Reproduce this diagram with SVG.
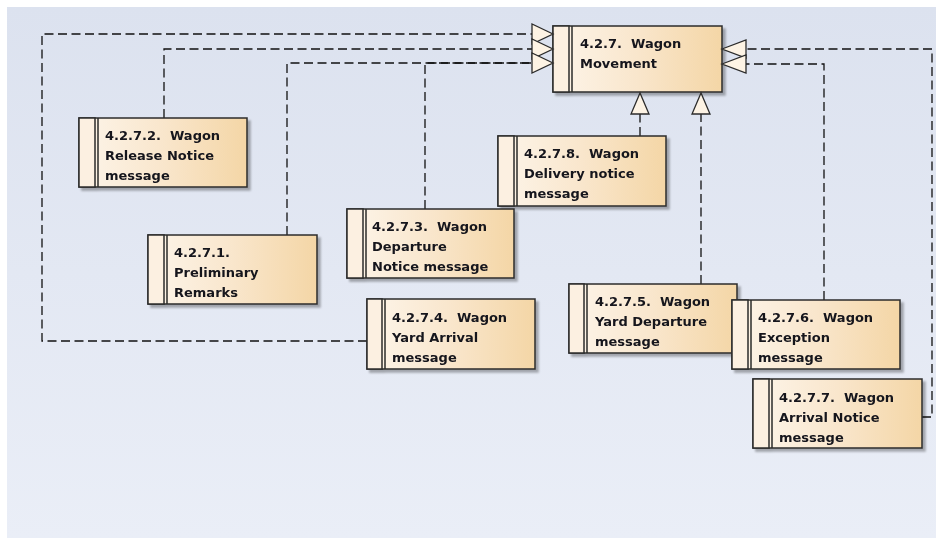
<svg xmlns="http://www.w3.org/2000/svg" width="936" height="538" viewBox="0 0 936 538">
  <defs>
    <linearGradient id="bg" x1="0" y1="0" x2="0" y2="1">
      <stop offset="0" stop-color="#dce2ef"/>
      <stop offset="1" stop-color="#eaeef7"/>
    </linearGradient>
    <linearGradient id="boxFill" x1="0" y1="0" x2="1" y2="0">
      <stop offset="0" stop-color="#fdf5ea"/>
      <stop offset="0.5" stop-color="#f9e6cc"/>
      <stop offset="1" stop-color="#f4d6a6"/>
    </linearGradient>
    <filter id="shadow" x="-5%" y="-5%" width="115%" height="120%">
      <feGaussianBlur in="SourceAlpha" stdDeviation="1"/>
      <feOffset dx="3" dy="3" result="b"/>
      <feComponentTransfer><feFuncA type="linear" slope="0.3"/></feComponentTransfer>
      <feMerge><feMergeNode/><feMergeNode in="SourceGraphic"/></feMerge>
    </filter>
  </defs>
  <style>
    .box { fill: url(#boxFill); stroke: #2b2b2b; stroke-width: 1.5; }
    .stripe { fill: #fcf0e1; stroke: #2b2b2b; stroke-width: 1.5; }
    .label { font-family: "DejaVu Sans", "Liberation Sans", sans-serif; font-weight: bold; font-size: 13px; fill: #14141c; }
    .dep { fill: none; stroke: #111; stroke-width: 1.3; stroke-dasharray: 9 4.5; }
    .head { fill: #fdf3e4; stroke: #2b2b2b; stroke-width: 1.3; stroke-linejoin: miter; }
  </style>

  <rect x="0" y="0" width="936" height="538" fill="#ffffff"/>
  <rect x="7" y="7" width="929" height="531" fill="url(#bg)"/>

  <!-- dependency connectors -->
  <g id="connectors">
    <path class="dep" d="M367,341 H42 V34 H532"/>
    <path class="dep" d="M164,118 V49 H532"/>
    <path class="dep" d="M287,235 V63 H532"/>
    <path class="dep" d="M425,209 V63 H532"/>
    <path class="dep" d="M640,136 V113"/>
    <path class="dep" d="M701,284 V113"/>
    <path class="dep" d="M824,300 V64 H746"/>
    <path class="dep" d="M922,417 H932 V49 H746"/>
  </g>

  <!-- main package -->
  <g id="n427" filter="url(#shadow)">
    <rect class="box" x="553" y="26" width="169" height="66"/>
    <path class="stripe" d="M553,26 H569 V92 H553 Z"/>
    <line x1="572" y1="26" x2="572" y2="92" stroke="#2b2b2b" stroke-width="1.5"/>
    <text class="label" x="580" y="48" xml:space="preserve">4.2.7.  Wagon</text>
    <text class="label" x="580" y="68">Movement</text>
  </g>

  <!-- hollow arrowheads at the main package -->
  <g id="arrowheads">
    <polygon class="head" points="553,34 532,24 532,44"/>
    <polygon class="head" points="553,49 532,39 532,59"/>
    <polygon class="head" points="553,63 532,53 532,73"/>
    <polygon class="head" points="722,49 746,40 746,58"/>
    <polygon class="head" points="722,64 746,55 746,73"/>
    <polygon class="head" points="640,93 631,114 649,114"/>
    <polygon class="head" points="701,93 692,114 710,114"/>
  </g>

  <g id="n4272" filter="url(#shadow)">
    <rect class="box" x="79" y="118" width="168" height="69"/>
    <path class="stripe" d="M79,118 H95 V187 H79 Z"/>
    <line x1="98" y1="118" x2="98" y2="187" stroke="#2b2b2b" stroke-width="1.5"/>
    <text class="label" x="105" y="140" xml:space="preserve">4.2.7.2.  Wagon</text>
    <text class="label" x="105" y="160">Release Notice</text>
    <text class="label" x="105" y="180">message</text>
  </g>

  <g id="n4271" filter="url(#shadow)">
    <rect class="box" x="148" y="235" width="169" height="69"/>
    <path class="stripe" d="M148,235 H164 V304 H148 Z"/>
    <line x1="167" y1="235" x2="167" y2="304" stroke="#2b2b2b" stroke-width="1.5"/>
    <text class="label" x="174" y="257">4.2.7.1.</text>
    <text class="label" x="174" y="277">Preliminary</text>
    <text class="label" x="174" y="297">Remarks</text>
  </g>

  <g id="n4278" filter="url(#shadow)">
    <rect class="box" x="498" y="136" width="168" height="70"/>
    <path class="stripe" d="M498,136 H514 V206 H498 Z"/>
    <line x1="517" y1="136" x2="517" y2="206" stroke="#2b2b2b" stroke-width="1.5"/>
    <text class="label" x="524" y="158" xml:space="preserve">4.2.7.8.  Wagon</text>
    <text class="label" x="524" y="178">Delivery notice</text>
    <text class="label" x="524" y="198">message</text>
  </g>

  <g id="n4273" filter="url(#shadow)">
    <rect class="box" x="347" y="209" width="167" height="69"/>
    <path class="stripe" d="M347,209 H363 V278 H347 Z"/>
    <line x1="366" y1="209" x2="366" y2="278" stroke="#2b2b2b" stroke-width="1.5"/>
    <text class="label" x="372" y="231" xml:space="preserve">4.2.7.3.  Wagon</text>
    <text class="label" x="372" y="251">Departure</text>
    <text class="label" x="372" y="271">Notice message</text>
  </g>

  <g id="n4274" filter="url(#shadow)">
    <rect class="box" x="367" y="299" width="168" height="70"/>
    <path class="stripe" d="M367,299 H382 V369 H367 Z"/>
    <line x1="385" y1="299" x2="385" y2="369" stroke="#2b2b2b" stroke-width="1.5"/>
    <text class="label" x="392" y="322" xml:space="preserve">4.2.7.4.  Wagon</text>
    <text class="label" x="392" y="342">Yard Arrival</text>
    <text class="label" x="392" y="362">message</text>
  </g>

  <g id="n4275" filter="url(#shadow)">
    <rect class="box" x="569" y="284" width="168" height="69"/>
    <path class="stripe" d="M569,284 H584 V353 H569 Z"/>
    <line x1="587" y1="284" x2="587" y2="353" stroke="#2b2b2b" stroke-width="1.5"/>
    <text class="label" x="595" y="306" xml:space="preserve">4.2.7.5.  Wagon</text>
    <text class="label" x="595" y="326">Yard Departure</text>
    <text class="label" x="595" y="346">message</text>
  </g>

  <g id="n4276" filter="url(#shadow)">
    <rect class="box" x="732" y="300" width="168" height="69"/>
    <path class="stripe" d="M732,300 H748 V369 H732 Z"/>
    <line x1="751" y1="300" x2="751" y2="369" stroke="#2b2b2b" stroke-width="1.5"/>
    <text class="label" x="758" y="322" xml:space="preserve">4.2.7.6.  Wagon</text>
    <text class="label" x="758" y="342">Exception</text>
    <text class="label" x="758" y="362">message</text>
  </g>

  <g id="n4277" filter="url(#shadow)">
    <rect class="box" x="753" y="379" width="169" height="69"/>
    <path class="stripe" d="M753,379 H769 V448 H753 Z"/>
    <line x1="772" y1="379" x2="772" y2="448" stroke="#2b2b2b" stroke-width="1.5"/>
    <text class="label" x="779" y="402" xml:space="preserve">4.2.7.7.  Wagon</text>
    <text class="label" x="779" y="422">Arrival Notice</text>
    <text class="label" x="779" y="442">message</text>
  </g>
</svg>
